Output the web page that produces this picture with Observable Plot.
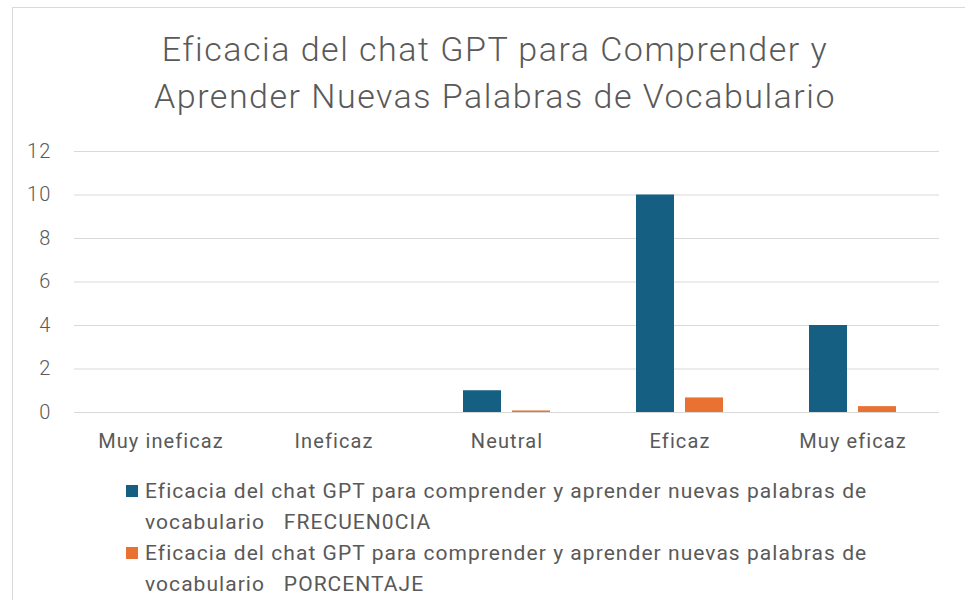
<!DOCTYPE html>
<html>
<head>
<meta charset="utf-8">
<script src="https://cdn.jsdelivr.net/npm/d3@7"></script>
<script src="https://cdn.jsdelivr.net/npm/@observablehq/plot@0.6"></script>
<style>
  html, body { margin: 0; padding: 0; background: #fff; }
  #page { position: relative; width: 965px; height: 600px; overflow: hidden; font-family: "Roboto", sans-serif; color: #595959; }
  #frame { position: absolute; left: 12px; top: 7px; width: 960px; height: 610px; border: 1px solid #d9d9d9; box-sizing: border-box; }
  #title { position: absolute; left: 0; width: 990px; top: 26px; text-align: center; font-size: 34px; letter-spacing: 1.5px; line-height: 47px; font-family: "Roboto", sans-serif; font-weight: 300; color: #595959; }
  #chart { position: absolute; left: 0; top: 0; }
  #legend { position: absolute; left: 126px; top: 476px; font-size: 21px; letter-spacing: 1.05px; line-height: 31px; font-family: "Roboto", sans-serif; font-weight: 400; color: #595959; }
  .item { display: flex; align-items: flex-start; }
  .sw { width: 12px; height: 12px; margin-top: 9px; margin-right: 7px; flex: none; }
  .txt { width: 780px; white-space: pre-wrap; }
</style>
</head>
<body>
<div id="page">
  <div id="frame"></div>
  <div id="title"></div>
  <div id="chart"></div>
  <div id="legend"></div>
</div>
<script>
const titleLines = ["Eficacia del chat GPT para Comprender y", "Aprender Nuevas Palabras de Vocabulario"];
const categories = ["Muy ineficaz", "Ineficaz", "Neutral", "Eficaz", "Muy eficaz"];
const seriesNames = [
  "Eficacia del chat GPT para comprender y aprender nuevas palabras de vocabulario   FRECUEN0CIA",
  "Eficacia del chat GPT para comprender y aprender nuevas palabras de vocabulario   PORCENTAJE"
];
const frecuencia = [0, 0, 1, 10, 4];
const porcentaje = [0, 0, 0.07, 0.67, 0.27];
const colors = ["#156082", "#E97132"];
const yTicks = [0, 2, 4, 6, 8, 10, 12];

document.getElementById("title").innerHTML = titleLines.join("<br>");

const data = [];
categories.forEach((c, i) => {
  data.push({cat: c, series: seriesNames[0], value: frecuencia[i]});
  data.push({cat: c, series: seriesNames[1], value: porcentaje[i]});
});

const chart = Plot.plot({
  width: 965,
  height: 470,
  marginTop: 151,
  marginBottom: 58,
  marginLeft: 73,
  marginRight: 25,
  style: { fontFamily: "Roboto, sans-serif", fontSize: "18px", color: "#595959", background: "transparent" },
  fx: { domain: categories, padding: 0, label: null },
  x: { domain: seriesNames, paddingInner: 0.23, paddingOuter: 0.85, axis: null },
  y: { domain: [0, 12], label: null },
  color: { domain: seriesNames, range: colors },
  marks: [
    Plot.gridY(yTicks, { stroke: "#d9d9d9", strokeOpacity: 1, strokeWidth: 1.2 }),
    Plot.barY(data, { fx: "cat", x: "series", y: "value", fill: "series" }),
    Plot.axisY(yTicks, { tickSize: 0, tickPadding: 23, fontSize: 20, fontWeight: 300, fill: "#595959", label: null }),
    Plot.axisFx({ anchor: "bottom", tickSize: 0, tickPadding: 21, fontSize: 20, fontWeight: 400, fill: "#595959", label: null })
  ]
});
chart.querySelectorAll("text").forEach(t => t.style.letterSpacing = "1.1px");
document.getElementById("chart").appendChild(chart);

const legend = document.getElementById("legend");
seriesNames.forEach((s, i) => {
  const item = document.createElement("div");
  item.className = "item";
  const sw = document.createElement("div");
  sw.className = "sw";
  sw.style.background = colors[i];
  const t = document.createElement("div");
  t.className = "txt";
  t.textContent = s;
  item.appendChild(sw);
  item.appendChild(t);
  legend.appendChild(item);
});
</script>
</body>
</html>
